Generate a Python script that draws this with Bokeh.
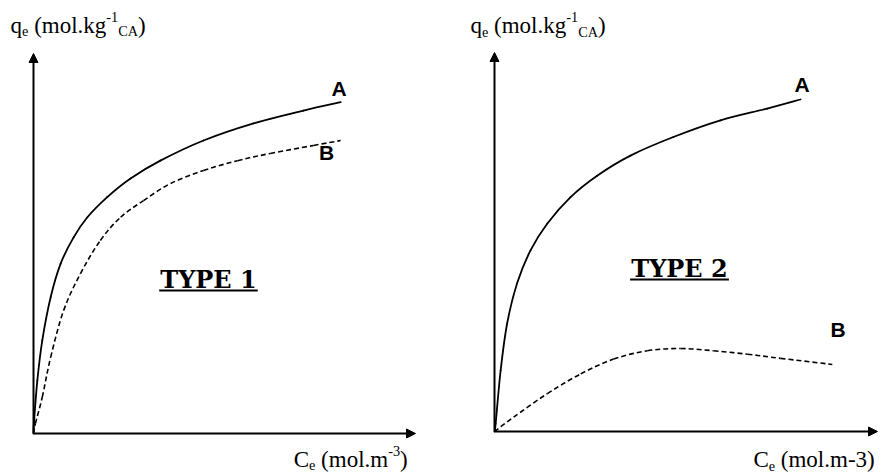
from bokeh.plotting import figure
from bokeh.layouts import row
from bokeh.models import Arrow, NormalHead, ColumnDataSource, Range1d
from bokeh.core.properties import value
from bokeh.embed import file_html
from bokeh.resources import INLINE

# Sketched adsorption isotherms, arbitrary units (both axes run 0..10)
t1_ce_a = [0, 0.01, 0.10, 0.23, 0.45, 0.71, 1.05, 1.41, 1.93, 2.54, 3.32, 4.45, 5.76, 7.07, 8.04]
t1_qe_a = [0, 0.26, 1.39, 2.45, 3.59, 4.47, 5.16, 5.69, 6.22, 6.71, 7.18, 7.71, 8.16, 8.50, 8.72]
t1_ce_b = [0, 0.05, 0.23, 0.45, 0.79, 1.23, 1.75, 2.28, 2.88, 3.59, 4.45, 5.34, 6.20, 7.33, 8.04]
t1_qe_b = [0, 0.26, 0.96, 2.01, 3.24, 4.21, 5.08, 5.69, 6.13, 6.58, 6.92, 7.18, 7.37, 7.58, 7.71]

t2_ce_a = [0, 0.03, 0.16, 0.33, 0.59, 0.94, 1.38, 1.98, 2.68, 3.55, 4.67, 5.90, 7.12, 7.99]
t2_qe_a = [0, 0.21, 1.61, 2.85, 3.91, 4.78, 5.49, 6.18, 6.75, 7.28, 7.77, 8.21, 8.52, 8.76]
t2_ce_b = [0, 0.50, 1.38, 2.25, 3.11, 3.99, 4.86, 5.72, 6.60, 7.47, 8.82]
t2_qe_b = [0, 0.38, 1.00, 1.52, 1.91, 2.13, 2.19, 2.13, 2.04, 1.93, 1.77]

panel_titles = ["TYPE 1", "TYPE 2"]
curve_names = ["A", "B"]

AXIS_LEN = 10

# Advance widths (1/1000 em) of Liberation Serif for the characters used in the axis titles
SERIF_W = {' ': 250, '(': 333, ')': 333, 'm': 778, 'o': 500, 'l': 278, '.': 250,
           'k': 500, 'g': 500, 'q': 500, 'e': 444, '-': 333, '1': 500, '3': 500,
           'C': 667, 'A': 722}


def rich_text(p, x, y, parts, size):
    """Draw a run of text pieces with sub/superscripts; (x, y) is the left/middle anchor."""
    texts, xo, yo, fs = [], [], [], []
    cursor = 0.0
    for txt, kind in parts:
        s = size if kind == "base" else size * 0.62
        dy = {"base": 0.0, "sub": 0.26 * size, "sup": -0.38 * size}[kind]
        lead = len(txt) - len(txt.lstrip(" "))
        cursor += lead * SERIF_W[" "] / 1000.0 * s
        body = txt.lstrip(" ")
        texts.append(body)
        xo.append(cursor)
        yo.append(dy)
        fs.append(f"{s:.1f}px")
        cursor += sum(SERIF_W[c] for c in body) / 1000.0 * s
    n = len(texts)
    src = ColumnDataSource(dict(x=[x] * n, y=[y] * n, text=texts, xo=xo, yo=yo, fs=fs))
    p.text(x="x", y="y", text="text", x_offset="xo", y_offset="yo",
           text_font_size="fs", text_font=value("Liberation Serif"),
           text_align="left", text_baseline="middle", text_color="black",
           source=src)


def smooth_curve(p, xs, ys, **line_kw):
    """Draw a smooth curve through the given points as cubic Bezier pieces."""
    n = len(xs)
    x0, y0, x1, y1, cx0, cy0, cx1, cy1 = ([] for _ in range(8))
    for i in range(n - 1):
        a = max(i - 1, 0)
        d = min(i + 2, n - 1)
        x0.append(xs[i]); y0.append(ys[i])
        x1.append(xs[i + 1]); y1.append(ys[i + 1])
        cx0.append(xs[i] + (xs[i + 1] - xs[a]) / 6.0)
        cy0.append(ys[i] + (ys[i + 1] - ys[a]) / 6.0)
        cx1.append(xs[i + 1] - (xs[d] - xs[i]) / 6.0)
        cy1.append(ys[i + 1] - (ys[d] - ys[i]) / 6.0)
    p.bezier(x0=x0, y0=y0, x1=x1, y1=y1, cx0=cx0, cy0=cy0, cx1=cx1, cy1=cy1,
             line_color="black", **line_kw)


def make_panel(width, xr, yr):
    p = figure(width=width, height=473, x_range=Range1d(*xr), y_range=Range1d(*yr),
               output_backend="svg", toolbar_location=None,
               x_axis_location=None, y_axis_location=None, min_border=0)
    p.grid.visible = False
    p.outline_line_color = None
    p.background_fill_color = "white"
    p.border_fill_color = "white"
    # hand-drawn style axes with arrow heads
    for xe, ye in [(AXIS_LEN, 0), (0, AXIS_LEN)]:
        p.add_layout(Arrow(end=NormalHead(size=9, fill_color="black", line_color="black",
                                          line_width=1),
                           x_start=0, y_start=0, x_end=xe, y_end=ye,
                           line_color="black", line_width=2))
    return p


def type_title(p, x, y, y_rule, text):
    p.text(x=[x], y=[y], text=[text], text_font=value("DejaVu Serif"),
           text_font_style="bold", text_font_size="24px", text_align="center",
           text_baseline="middle", text_color="black")
    half = 1.29
    p.segment(x0=[x - half], y0=[y_rule], x1=[x + half], y1=[y_rule],
              line_color="black", line_width=2)


def curve_label(p, x, y, text):
    p.text(x=[x], y=[y], text=[text], text_font=value("Liberation Sans"),
           text_font_style="bold", text_font_size="21px", text_align="center",
           text_baseline="middle", text_color="black")


y_title = [("q", "base"), ("e", "sub"), (" (mol.kg", "base"), ("-1", "sup"),
           ("CA", "sub"), (")", "base")]

# ---- Type 1 ----
p1 = make_panel(441, (-0.864, 10.68), (-1.053, 11.395))
smooth_curve(p1, t1_ce_a, t1_qe_a, line_width=1.8, line_cap="round")
smooth_curve(p1, t1_ce_b, t1_qe_b, line_width=1.6, line_dash="5 3")
curve_label(p1, 8.0, 9.07, curve_names[0])
curve_label(p1, 7.67, 7.39, curve_names[1])
type_title(p1, 4.58, 4.05, 3.76, panel_titles[0])
rich_text(p1, -0.60, 10.74, y_title, 23)
rich_text(p1, 6.81, -0.68, [("C", "base"), ("e", "sub"), (" (mol.m", "base"),
                            ("-3", "sup"), (")", "base")], 23)

# ---- Type 2 ----
p2 = make_panel(442, (-1.384, 10.157), (-1.108, 11.372))
smooth_curve(p2, t2_ce_a, t2_qe_a, line_width=1.8, line_cap="round")
smooth_curve(p2, t2_ce_b, t2_qe_b, line_width=1.6, line_dash="5 3")
curve_label(p2, 8.03, 9.16, curve_names[0])
curve_label(p2, 8.97, 2.69, curve_names[1])
type_title(p2, 4.83, 4.31, 4.01, panel_titles[1])
rich_text(p2, -0.627, 10.71, y_title, 23)
rich_text(p2, 6.76, -0.74, [("C", "base"), ("e", "sub"), (" (mol.m-3)", "base")], 23)

layout = row(p1, p2)
open("out.html", "w").write(file_html(layout, INLINE))
